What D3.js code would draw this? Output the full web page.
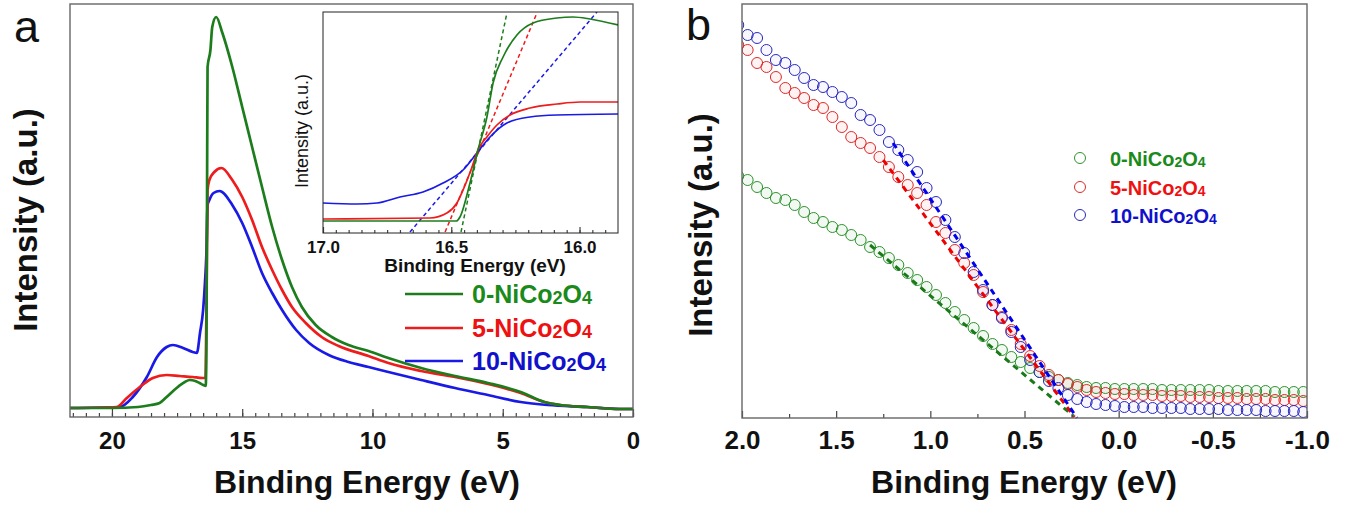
<!DOCTYPE html>
<html><head><meta charset="utf-8">
<script src="https://cdn.jsdelivr.net/npm/d3@7"></script>
<style>body{margin:0;background:#fff} svg{display:block} text{font-family:"Liberation Sans",Arial,sans-serif}</style>
</head><body><svg id="c" width="1346" height="506"></svg>
<script>
// ---------------- DATA ----------------
const sampleNames = ["0-NiCo2O4", "5-NiCo2O4", "10-NiCo2O4"];
const lineColors = ["#1d7d1d", "#ee1c1c", "#1a1ae6"];
const textColors = ["#1a8a1a", "#ee1111", "#1111cc"];
const markerColors = ["#2f922f", "#e02828", "#2828c0"];

// Panel a: [binding energy (eV), intensity (a.u.)]
const aGreen = [[21.61,0],[20.0,0],[19.0,1],[18.5,3],[18.17,5],[17.9,11],[17.52,20],[17.2,26],[17.02,28],[16.8,27],[16.64,25],[16.49,23],[16.40,22],[16.37,78],[16.35,208],[16.33,341],[16.22,358],[16.15,381],[16.0,391],[15.76,375],[15.38,341],[15.0,301],[14.62,261],[14.24,221],[13.85,181],[13.47,148],[13.09,121],[12.71,101],[12.18,83],[11.56,71],[10.92,63],[10.15,57],[9.39,50],[8.13,40],[6.83,32],[5.57,25],[4.31,16],[3.40,6],[2.79,3],[1.76,1],[0.5,-1],[0,-1]];
const aRed = [[21.61,0],[19.81,1],[19.43,10],[18.93,21],[18.43,30],[17.9,33],[17.4,32],[16.9,31],[16.53,30],[16.41,30],[16.37,108],[16.33,218],[16.26,228],[16.07,236],[15.8,240],[15.38,228],[15.0,211],[14.62,188],[14.24,161],[13.85,138],[13.47,118],[13.09,101],[12.56,85],[11.95,71],[11.3,62],[10.15,52],[9.39,45],[8.13,37],[6.83,31],[5.57,24],[4.31,15],[3.40,6],[2.79,3],[1.76,1],[0.5,-1],[0,-1]];
const aBlue = [[21.61,0],[19.7,1],[19.2,11],[18.66,31],[18.27,51],[17.9,61],[17.66,63],[17.27,60],[16.9,56],[16.74,55],[16.62,75],[16.5,98],[16.43,125],[16.37,158],[16.33,203],[16.26,208],[16.1,215],[15.87,217],[15.38,203],[15.0,185],[14.62,161],[14.24,135],[13.85,115],[13.47,98],[12.93,78],[12.43,65],[11.68,53],[10.92,46],[10.15,41],[9.39,36],[8.13,28],[6.83,20],[5.57,13],[4.31,6],[3.28,3],[1.76,1],[0.5,-1],[0,-1]];
const aMajorTicks = [20, 15, 10, 5, 0];

// Inset: [binding energy (eV), intensity (a.u.)]
const insetGreen = [[17.0,12],[16.7,12],[16.48,12],[16.466,16],[16.427,50],[16.396,83],[16.361,116],[16.337,150],[16.298,176],[16.244,198],[16.181,210],[16.088,215],[16.025,216],[15.959,214],[15.85,208]];
const insetRed = [[17.0,14],[16.583,15],[16.517,20],[16.478,30],[16.454,43],[16.419,66],[16.396,83],[16.361,96],[16.322,108],[16.271,118],[16.193,125],[16.088,129],[15.998,131],[15.85,131]];
const insetBlue = [[17.0,30],[16.867,29],[16.789,30],[16.70,36],[16.61,41],[16.532,50],[16.454,63],[16.40,80],[16.349,96],[16.283,110],[16.193,116],[16.088,118],[15.85,119]];
const insetFitGreen = [[16.462,1],[16.283,220]];
const insetFitRed = [[16.524,1],[16.166,220]];
const insetFitBlue = [[16.661,1],[15.932,221]];
const insetMajorTicks = [17.0, 16.5, 16.0];

// Panel b: binding energies of the points and intensities
const bEnergy = [2.02,1.97,1.92,1.87,1.82,1.77,1.72,1.67,1.62,1.57,1.52,1.47,1.42,1.37,1.32,1.27,1.22,1.17,1.12,1.07,1.02,0.97,0.92,0.87,0.82,0.77,0.72,0.67,0.62,0.57,0.52,0.47,0.42,0.37,0.32,0.27,0.22,0.17,0.12,0.07,0.02,-0.03,-0.08,-0.13,-0.18,-0.23,-0.28,-0.33,-0.38,-0.43,-0.48,-0.53,-0.58,-0.63,-0.68,-0.73,-0.78,-0.83,-0.88,-0.93,-0.98];
const bGreen = [242,238,231,225,220,218,213,206,200,196,191,188,183,178,171,166,160,153,145,138,131,123,115,106,98,90,82,74,68,61,56,50,46,41,38,35,33,31,30,30,29,29,29,29,29,28,28,28,28,28,28,27,27,27,27,27,27,26,26,26,26];
const bRed = [373,368,355,351,341,330,325,320,313,310,301,291,281,275,270,261,251,241,233,225,213,196,185,168,155,143,126,113,101,88,74,62,52,43,38,34,31,28,26,25,24,24,23,23,23,22,22,22,21,21,21,20,20,20,19,19,19,18,18,18,17];
const bBlue = [393,383,380,368,358,355,348,340,333,331,326,321,315,303,298,288,276,268,258,246,230,216,198,181,165,146,128,113,100,86,71,58,46,37,30,23,19,16,14,13,12,11,11,11,10,10,10,10,9,9,9,9,8,8,8,8,7,7,7,7,6];
const bFitGreen = [[1.32,173],[0.24,2]];
const bFitRed = [[1.25,258],[0.235,1]];
const bFitBlue = [[1.198,275],[0.221,0]];
const bMajorTicks = [2.0, 1.5, 1.0, 0.5, 0.0, -0.5, -1.0];

// ---------------- DRAW ----------------
const svg = d3.select("#c");
const defs = svg.append("defs");
const FRAME = "#666";

function addSubLabel(sel, name, mainSize, subSize) {
  const m = name.match(/^(.*Co)(2)(O)(4)$/);
  sel.append("tspan").text(m[1]);
  sel.append("tspan").attr("font-size", subSize).attr("dy", 1).text(m[2]);
  sel.append("tspan").attr("font-size", mainSize).attr("dy", -1).text(m[3]);
  sel.append("tspan").attr("font-size", subSize).attr("dy", 1).text(m[4]);
}
function styleAxis(g, fs, weight) {
  g.select(".domain").remove();
  g.selectAll(".tick line").attr("stroke", "#444").attr("stroke-width", 1.2);
  g.selectAll(".tick text").attr("font-size", fs).attr("font-weight", weight).attr("fill", "#111")
    .style("font-family", '"Liberation Sans", Arial, sans-serif');
}

// ===== Panel a =====
const xa = d3.scaleLinear().domain([21.61, 0]).range([70, 633]);
const ya = d3.scaleLinear().domain([-9, 404]).range([417, 4]);
defs.append("clipPath").attr("id", "clipA").append("rect").attr("x", 70).attr("y", 4).attr("width", 563).attr("height", 413);
const ga = svg.append("g");
const lineA = d3.line().x(d => xa(d[0])).y(d => ya(d[1])).curve(d3.curveMonotoneX);
const gaLines = ga.append("g").attr("clip-path", "url(#clipA)");
[[aBlue, 2], [aRed, 1], [aGreen, 0]].forEach(([data, i]) => {
  gaLines.append("path").datum(data).attr("d", lineA).attr("fill", "none")
    .attr("stroke", lineColors[i]).attr("stroke-width", 2.7).attr("stroke-linejoin", "round");
});
ga.append("g").attr("transform", "translate(0,417)")
  .call(d3.axisBottom(xa).tickValues(d3.range(0, 21.6, 0.5)).tickSizeInner(-4).tickSizeOuter(0).tickFormat(""))
  .call(g => styleAxis(g, 0, "bold"));
ga.append("g").attr("transform", "translate(0,417)")
  .call(d3.axisBottom(xa).tickValues(aMajorTicks).tickSizeInner(-8).tickSizeOuter(0).tickPadding(15).tickFormat(d => String(d)))
  .call(g => styleAxis(g, 24, "bold"));
ga.append("rect").attr("x", 70).attr("y", 4).attr("width", 563).attr("height", 413)
  .attr("fill", "none").attr("stroke", FRAME).attr("stroke-width", 1.4);

// Inset
const xi = d3.scaleLinear().domain([17.0, 15.85]).range([323, 618]);
const yi = d3.scaleLinear().domain([0, 221]).range([233, 12]);
defs.append("clipPath").attr("id", "clipI").append("rect").attr("x", 323).attr("y", 12).attr("width", 295).attr("height", 221);
const gi = svg.append("g");
gi.append("rect").attr("x", 323).attr("y", 12).attr("width", 295).attr("height", 221).attr("fill", "#fff");
const lineI = d3.line().x(d => xi(d[0])).y(d => yi(d[1])).curve(d3.curveMonotoneX);
const giLines = gi.append("g").attr("clip-path", "url(#clipI)");
[[insetFitBlue, 2], [insetFitRed, 1], [insetFitGreen, 0]].forEach(([data, i]) => {
  giLines.append("path").datum(data).attr("d", d3.line().x(d => xi(d[0])).y(d => yi(d[1])))
    .attr("fill", "none").attr("stroke", lineColors[i]).attr("stroke-width", 1.5).attr("stroke-dasharray", "4,3");
});
[[insetBlue, 2], [insetRed, 1], [insetGreen, 0]].forEach(([data, i]) => {
  giLines.append("path").datum(data).attr("d", lineI).attr("fill", "none")
    .attr("stroke", lineColors[i]).attr("stroke-width", 1.7);
});
gi.append("g").attr("transform", "translate(0,233)")
  .call(d3.axisBottom(xi).tickValues(d3.range(15.9, 17.0, 0.05)).tickSizeInner(-3).tickSizeOuter(0).tickFormat(""))
  .call(g => styleAxis(g, 0, "bold"));
gi.append("g").attr("transform", "translate(0,233)")
  .call(d3.axisBottom(xi).tickValues(insetMajorTicks).tickSizeInner(-6).tickSizeOuter(0).tickPadding(8).tickFormat(d => d.toFixed(1)))
  .call(g => styleAxis(g, 17, "bold"));
gi.append("rect").attr("x", 323).attr("y", 12).attr("width", 295).attr("height", 221)
  .attr("fill", "none").attr("stroke", "#222").attr("stroke-width", 1);
gi.append("text").attr("x", 475).attr("y", 272).attr("text-anchor", "middle")
  .attr("font-size", 19).attr("font-weight", "bold").attr("fill", "#111").text("Binding Energy (eV)");
gi.append("text").attr("transform", "translate(308,131) rotate(-90)").attr("text-anchor", "middle")
  .attr("font-size", 18).attr("fill", "#111").text("Intensity (a.u.)");

// Legend a
sampleNames.forEach((name, i) => {
  const yy = [294, 328, 361][i];
  ga.append("line").attr("x1", 405).attr("x2", 463).attr("y1", yy).attr("y2", yy)
    .attr("stroke", lineColors[i]).attr("stroke-width", 2.7);
  const t = ga.append("text").attr("x", 472).attr("y", yy + 9).attr("font-size", 25)
    .attr("font-weight", "bold").attr("fill", textColors[i]);
  addSubLabel(t, name, 25, 18);
});

ga.append("text").attr("x", 367).attr("y", 493).attr("text-anchor", "middle")
  .attr("font-size", 32).attr("font-weight", "bold").attr("fill", "#111").text("Binding Energy (eV)");
ga.append("text").attr("transform", "translate(37,220) rotate(-90)").attr("text-anchor", "middle")
  .attr("font-size", 33).attr("font-weight", "bold").attr("fill", "#111").text("Intensity (a.u.)");
ga.append("text").attr("x", 14).attr("y", 42).attr("font-size", 45).attr("fill", "#111").text("a");

// ===== Panel b =====
const xb = d3.scaleLinear().domain([2.0, -1.0]).range([742, 1307]);
const yb = d3.scaleLinear().domain([0, 414]).range([418, 4]);
defs.append("clipPath").attr("id", "clipB").append("rect").attr("x", 742).attr("y", 4).attr("width", 565).attr("height", 414);
const gb = svg.append("g");
const gbMarks = gb.append("g").attr("clip-path", "url(#clipB)");
const fills = ["rgba(40,150,40,0.06)", "rgba(230,40,40,0.06)", "rgba(40,40,200,0.04)"];
[[bGreen, 0], [bRed, 1], [bBlue, 2]].forEach(([vals, i]) => {
  gbMarks.append("g").selectAll("circle").data(bEnergy.map((e, k) => [e, vals[k]])).join("circle")
    .attr("cx", d => xb(d[0])).attr("cy", d => yb(d[1])).attr("r", 5.5)
    .attr("fill", fills[i]).attr("stroke", markerColors[i]).attr("stroke-width", 1);
});
const lineB = d3.line().x(d => xb(d[0])).y(d => yb(d[1]));
[[bFitGreen, 0], [bFitRed, 1], [bFitBlue, 2]].forEach(([data, i]) => {
  gb.append("path").datum(data).attr("d", lineB).attr("fill", "none")
    .attr("stroke", ["#1a7a1a", "#ee0000", "#0000ee"][i]).attr("stroke-width", 3).attr("stroke-dasharray", "6,5");
});
gb.append("g").attr("transform", "translate(0,418)")
  .call(d3.axisBottom(xb).tickValues([1.75, 1.25, 0.75, 0.25, -0.25, -0.75]).tickSizeInner(-4).tickSizeOuter(0).tickFormat(""))
  .call(g => styleAxis(g, 0, "bold"));
gb.append("g").attr("transform", "translate(0,418)")
  .call(d3.axisBottom(xb).tickValues(bMajorTicks).tickSizeInner(-7).tickSizeOuter(0).tickPadding(13).tickFormat(d => d.toFixed(1)))
  .call(g => styleAxis(g, 26, "bold"));
gb.append("rect").attr("x", 742).attr("y", 4).attr("width", 565).attr("height", 414)
  .attr("fill", "none").attr("stroke", FRAME).attr("stroke-width", 1.4);

// Legend b
sampleNames.forEach((name, i) => {
  const yy = [158, 187, 215][i];
  gb.append("circle").attr("cx", 1080).attr("cy", yy).attr("r", 5.5)
    .attr("fill", "#fff").attr("stroke", markerColors[i]).attr("stroke-width", 1);
  const t = gb.append("text").attr("x", 1110).attr("y", yy + 8).attr("font-size", 20)
    .attr("font-weight", "bold").attr("fill", textColors[i]);
  addSubLabel(t, name, 20, 14);
});

gb.append("text").attr("x", 1024).attr("y", 493).attr("text-anchor", "middle")
  .attr("font-size", 32).attr("font-weight", "bold").attr("fill", "#111").text("Binding Energy (eV)");
gb.append("text").attr("transform", "translate(712,225) rotate(-90)").attr("text-anchor", "middle")
  .attr("font-size", 33).attr("font-weight", "bold").attr("fill", "#111").text("Intensity (a.u.)");
gb.append("text").attr("x", 686).attr("y", 40).attr("font-size", 45).attr("fill", "#111").text("b");
</script></body></html>
